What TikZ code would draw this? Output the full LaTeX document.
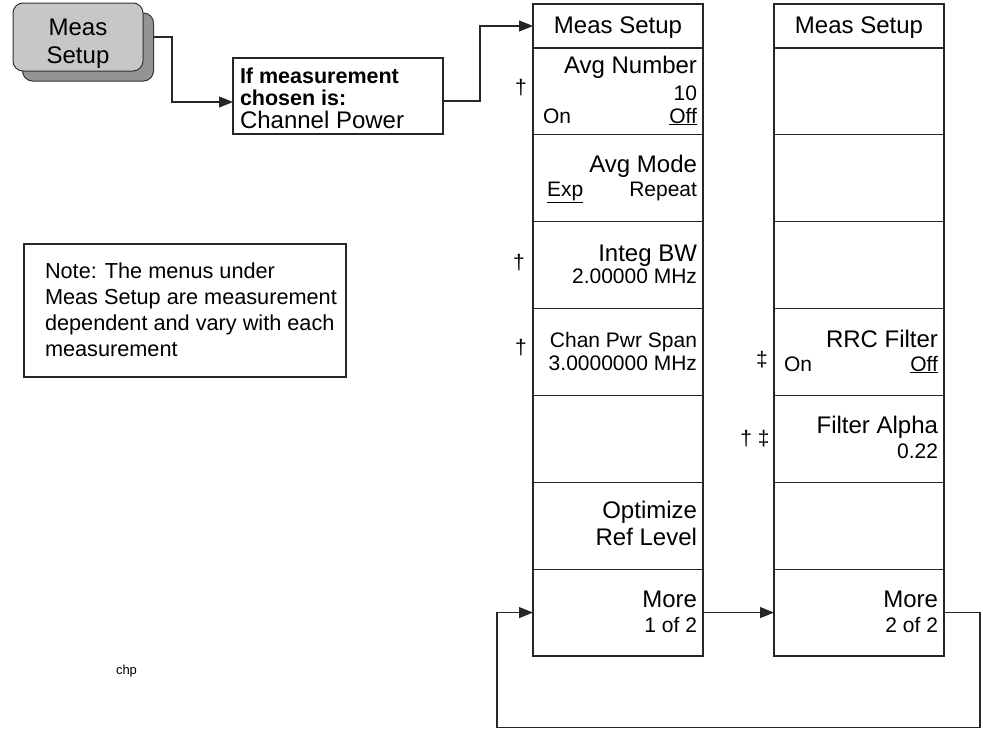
\documentclass[tikz,border=0pt]{standalone}
\usepackage{fontspec}
\setmainfont{Liberation Sans}
\usetikzlibrary{arrows.meta,calc}
\newcommand\mtitle{\fontsize{24}{28}\selectfont}
\newcommand\mval{\fontsize{21}{24}\selectfont}
\newcommand\mnote{\fontsize{21.7}{26}\selectfont}
\tikzset{
  frame/.style={draw=black!85, line width=1.2pt, fill=white, inner sep=0pt, outer sep=0pt},
  menukey/.style={frame, minimum width=170pt, minimum height=86.857pt},
  menuhead/.style={frame, minimum width=170pt, minimum height=44pt},
  conn/.style={draw=black!85, line width=1.1pt},
  arr/.style={conn, -{Triangle[length=14pt,width=11pt]}},
  txt/.style={inner sep=0pt, outer sep=0pt},
  rt/.style={txt, anchor=base east},
  lt/.style={txt, anchor=base west},
  ct/.style={txt, anchor=base},
  ttl/.style={font=\mtitle},
  vl/.style={font=\mval},
  nt/.style={font=\mnote},
}
\begin{document}
\begin{tikzpicture}[x=1pt,y=-1pt]
\useasboundingbox (0,0) rectangle (983,734);

% hard key
\node[draw=black!80, line width=1pt, fill=black!42, rounded corners=10pt, minimum width=131pt, minimum height=68pt, inner sep=0pt] (hks) at (88,47) {};
\node[draw=black!80, line width=1pt, fill=black!22, rounded corners=10pt, minimum width=130pt, minimum height=68pt, inner sep=0pt] (hk) at (78,37) {};
\node[ct, ttl] (hkt1) at (78,35) {Meas};
\node[ct, ttl] (hkt2) at (78,63) {Setup};

% "If measurement" box
\node[frame, minimum width=210pt, minimum height=76pt] (ifbox) at (338,96) {};
\node[lt] (if1) at (240,83) {\fontsize{21.5}{24}\selectfont\bfseries If measurement};
\node[lt] (if2) at (240,105) {\fontsize{21.5}{24}\selectfont\bfseries chosen is:};
\node[lt, ttl] (if3) at (240,128) {Channel Power};

% Menu 1
\node[menuhead] (m1h) at (618,26) {};
\foreach \i in {1,...,7}{
  \node[menukey] (m1k\i) at (618,{48+86.857*(\i-0.5)}) {};
}
% Menu 2
\node[menuhead] (m2h) at (859,26) {};
\foreach \i in {1,...,7}{
  \node[menukey] (m2k\i) at (859,{48+86.857*(\i-0.5)}) {};
}

% Menu 1 labels
\node[ct, ttl] (t1h) at (618,33) {Meas Setup};
\node[rt, ttl] (t1a) at (697,73) {Avg Number};
\node[rt, vl] (t1b) at (697,100) {10};
\node[lt, vl] (t1c) at (543,123) {On};
\node[rt, vl] (t1d) at (697,123) {\underline{Off}};
\node[rt, ttl] (t2a) at (697,172) {Avg Mode};
\node[lt, vl] (t2b) at (547,196) {\underline{Exp}};
\node[rt, vl] (t2c) at (697,196) {Repeat};
\node[rt, ttl] (t3a) at (697,261) {Integ BW};
\node[rt, vl] (t3b) at (697,283) {2.00000 MHz};
\node[rt, vl] (t4a) at (697,347) {Chan Pwr Span};
\node[rt, vl] (t4b) at (697,370) {3.0000000 MHz};
\node[rt, ttl] (t6a) at (697,518) {Optimize};
\node[rt, ttl] (t6b) at (697,545) {Ref Level};
\node[rt, ttl] (t7a) at (697,607) {More};
\node[rt, vl] (t7b) at (697,632) {1 of 2};

% Menu 2 labels
\node[ct, ttl] (u1h) at (859,33) {Meas Setup};
\node[rt, ttl] (u4a) at (938,347) {RRC Filter};
\node[lt, vl] (u4b) at (784,371) {On};
\node[rt, vl] (u4c) at (938,371) {\underline{Off}};
\node[rt, ttl] (u5a) at (938,433) {Filter Alpha};
\node[rt, vl] (u5b) at (938,458) {0.22};
\node[rt, ttl] (u7a) at (938,607) {More};
\node[rt, vl] (u7b) at (938,632) {2 of 2};

% daggers
\node[txt, vl] (d1) at (521,88) {†};
\node[txt, vl] (d2) at (519,263) {†};
\node[txt, vl] (d3) at (521,348) {†};
\node[txt, vl] (d4) at (762,360) {‡};
\node[txt, vl] (d5) at (755,439) {† ‡};

% note
\node[draw=black!85, line width=1.1pt, minimum width=322pt, minimum height=133pt, inner sep=0pt] (note) at (185,310.5) {};
\node[lt, nt] (n1) at (45,278) {Note: The menus under};
\node[lt, nt] (n2) at (45,304) {Meas Setup are measurement};
\node[lt, nt] (n3) at (45,330) {dependent and vary with each};
\node[lt, nt] (n4) at (45,356) {measurement};

\node[lt] (chp) at (116,674) {\fontsize{13}{15}\selectfont chp};

% connectors
\draw[arr] (hks.east |- hk.east) -- ++(18,0) |- ([yshift=-6pt]ifbox.west);
\draw[arr] ([yshift=-5pt]ifbox.east) -- ++(37,0) |- (m1h.west);
\draw[arr] (m1k7.east) -- (m2k7.west);
\draw[arr] (m2k7.east) -- ++(36,0) -- ++(0,114.5) -| ([xshift=-36pt]m1k7.west) -- (m1k7.west);
\end{tikzpicture}
\end{document}
